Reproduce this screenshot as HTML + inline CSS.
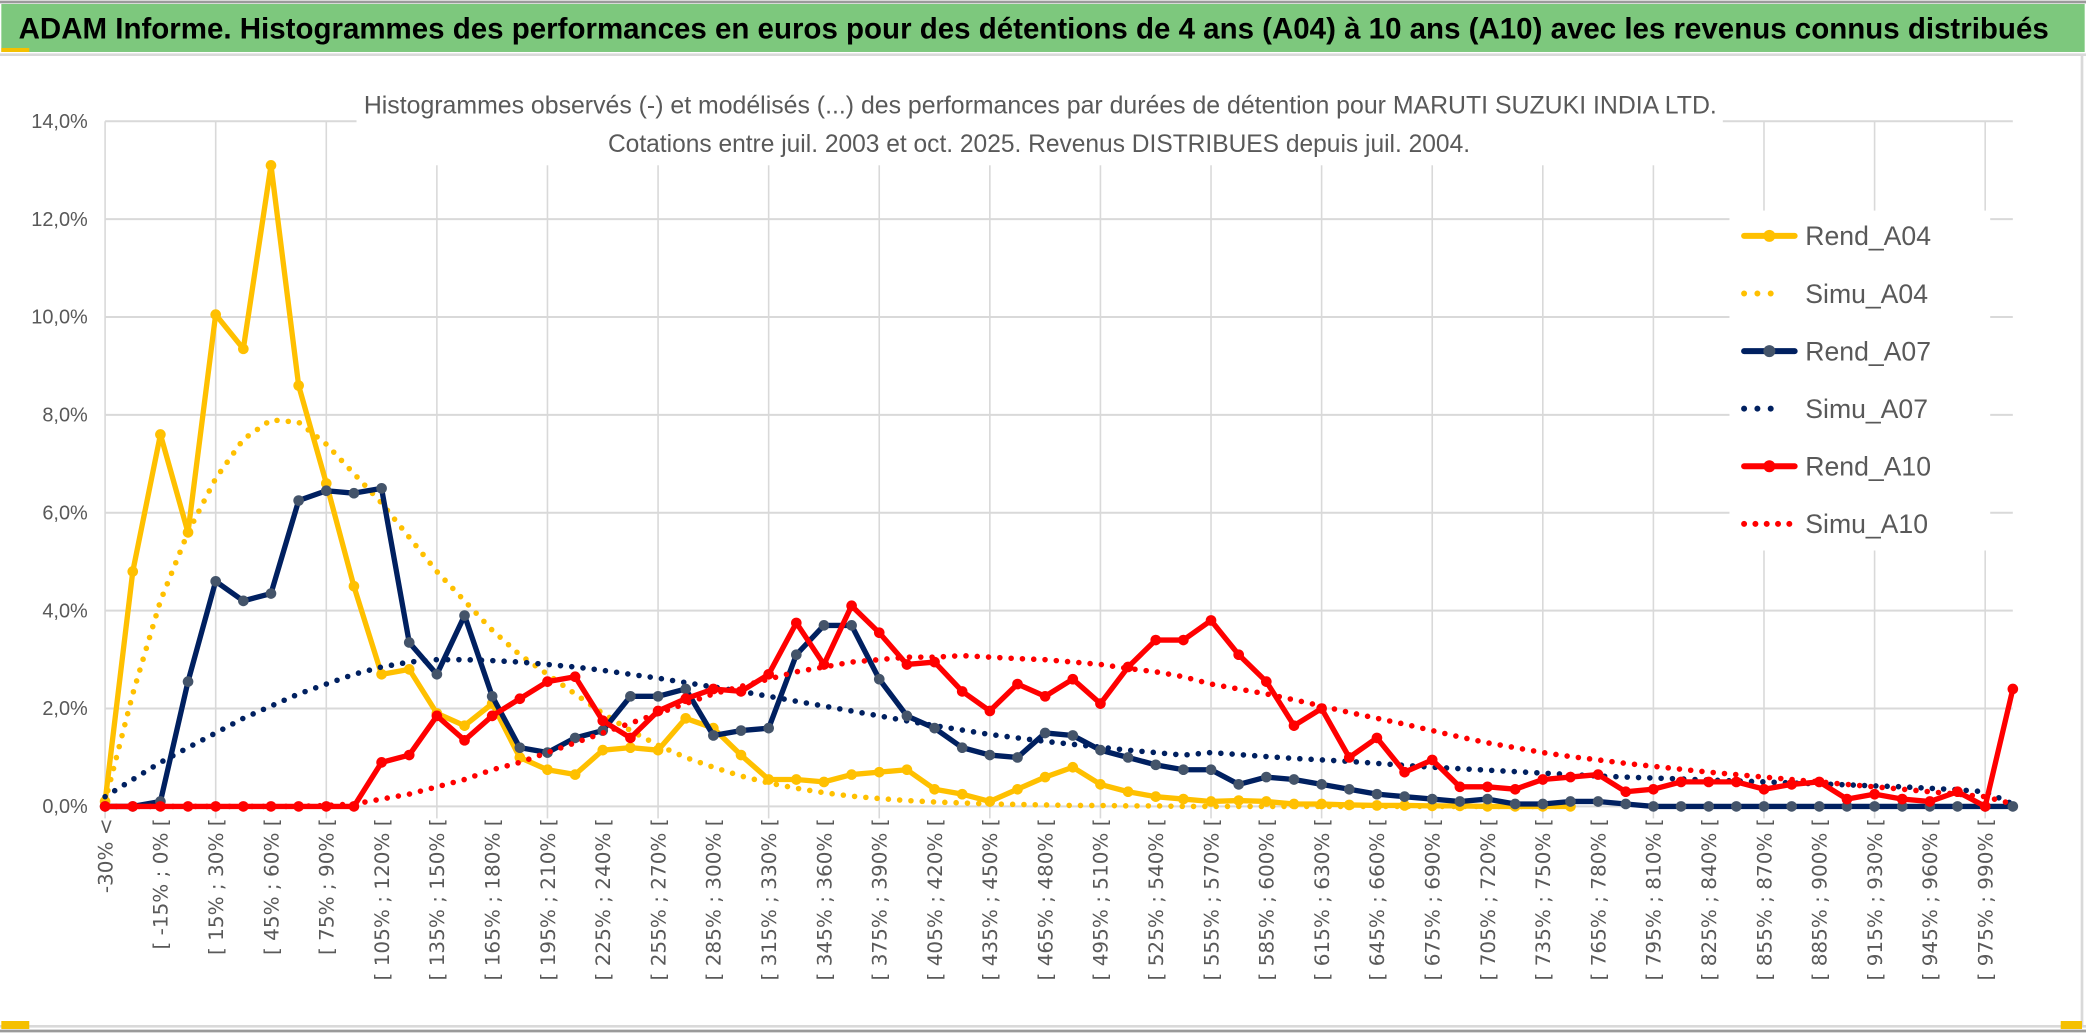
<!DOCTYPE html>
<html><head><meta charset="utf-8"><style>
html,body{margin:0;padding:0;background:#fff;}
svg{display:block;}
text{font-family:"Liberation Sans Narrow","Liberation Sans",sans-serif;}
</style></head><body>
<svg id="chart" width="2086" height="1033" viewBox="0 0 1568 775" preserveAspectRatio="none" xmlns="http://www.w3.org/2000/svg">
<rect x="0" y="0" width="1568" height="775" fill="#fff"/>
<line x1="0" y1="1.5" x2="1568" y2="1.5" stroke="#9a9a9a" stroke-width="2"/>
<rect x="1" y="3" width="1566" height="36" fill="#7dc87d"/>
<rect x="1" y="36" width="21" height="3" fill="#f5c000"/>
<line x1="0" y1="41" x2="1568" y2="41" stroke="#d9d9d9" stroke-width="2"/>
<text x="14" y="29" font-size="22" font-weight="bold" fill="#000" textLength="1526" lengthAdjust="spacingAndGlyphs">ADAM Informe. Histogrammes des performances en euros pour des détentions de 4 ans (A04) à 10 ans (A10) avec les revenus connus distribués</text>
<line x1="1565" y1="41" x2="1565" y2="770" stroke="#d9d9d9" stroke-width="2"/>
<line x1="0" y1="770" x2="1568" y2="770" stroke="#d9d9d9" stroke-width="2"/>
<line x1="0" y1="773.5" x2="1568" y2="773.5" stroke="#9a9a9a" stroke-width="2"/>
<rect x="1" y="766" width="21" height="6" fill="#f5c000"/>
<rect x="1549" y="766" width="16" height="6" fill="#f5c000"/>
<g id="grid"></g>
<rect x="268" y="62" width="1027" height="62" fill="#fff"/>
<text x="782" y="85" font-size="19" fill="#595959" text-anchor="middle" textLength="1017" lengthAdjust="spacingAndGlyphs">Histogrammes observés (-) et modélisés (...) des performances par durées de détention pour MARUTI SUZUKI INDIA LTD.</text>
<text x="781" y="114" font-size="19" fill="#595959" text-anchor="middle" textLength="648" lengthAdjust="spacingAndGlyphs">Cotations entre juil. 2003 et oct. 2025. Revenus DISTRIBUES depuis juil. 2004.</text>
<g id="axes"></g>
<g id="series"></g>
<g id="legend"></g>
</svg>
<script>
const categories = [];
const yTicks = [0,2,4,6,8,10,12,14];
const yTickLabels = ["0,0%","2,0%","4,0%","6,0%","8,0%","10,0%","12,0%","14,0%"];
const rendA04 = [0.1,4.8,7.6,5.6,10.05,9.35,13.1,8.6,6.6,4.5,
2.7,2.8,1.9,1.65,2.1,1.0,0.75,0.65,1.15,1.2,
1.15,1.8,1.6,1.05,0.55,0.55,0.5,0.65,0.7,0.75,
0.35,0.25,0.1,0.35,0.6,0.8,0.45,0.3,0.2,0.15,
0.1,0.12,0.1,0.05,0.05,0.03,0.02,0.02,0.01,0.01,
0,0,0,0,null,null,null,null,null,null,
null,null,null,null,null,null,null,null,null,null];
const simuA04 = [0.1,2.3,4.2,5.6,6.7,7.5,7.9,7.85,7.4,6.8,
6.2,5.5,4.8,4.2,3.6,3.1,2.7,2.3,1.9,1.55,
1.25,1.0,0.8,0.62,0.48,0.37,0.28,0.21,0.16,0.12,
0.09,0.07,0.05,0.04,0.03,0.02,0.02,0.01,0.01,0,
0,0,0,0,0,0,0,0,0,0,
0,0,0,0,null,null,null,null,null,null,
null,null,null,null,null,null,null,null,null,null];
const rendA07 = [0,0,0.1,2.55,4.6,4.2,4.35,6.25,6.45,6.4,
6.5,3.35,2.7,3.9,2.25,1.2,1.1,1.4,1.55,2.25,
2.25,2.4,1.45,1.55,1.6,3.1,3.7,3.7,2.6,1.85,
1.6,1.2,1.05,1.0,1.5,1.45,1.15,1.0,0.85,0.75,
0.75,0.45,0.6,0.55,0.45,0.35,0.25,0.2,0.15,0.1,
0.15,0.05,0.05,0.1,0.1,0.05,0,0,0,0,
0,0,0,0,0,0,0,0,0,0];
const simuA07 = [0.2,0.55,0.9,1.2,1.5,1.8,2.05,2.3,2.5,2.7,
2.85,2.95,3.0,3.0,2.98,2.95,2.9,2.85,2.78,2.7,
2.62,2.53,2.44,2.35,2.25,2.15,2.05,1.95,1.85,1.75,
1.65,1.56,1.47,1.4,1.33,1.27,1.21,1.15,1.1,1.05,
1.1,1.06,1.02,0.98,0.95,0.92,0.88,0.84,0.8,0.77,
0.74,0.71,0.68,0.65,0.62,0.6,0.58,0.56,0.54,0.52,
0.5,0.48,0.46,0.44,0.42,0.4,0.37,0.34,0.3,0.05];
const rendA10 = [0,0,0,0,0,0,0,0,0,0,
0.9,1.05,1.85,1.35,1.85,2.2,2.55,2.65,1.75,1.4,
1.95,2.2,2.4,2.35,2.7,3.75,2.9,4.1,3.55,2.9,
2.95,2.35,1.95,2.5,2.25,2.6,2.1,2.85,3.4,3.4,
3.8,3.1,2.55,1.65,2.0,1.0,1.4,0.7,0.95,0.4,
0.4,0.35,0.55,0.6,0.65,0.3,0.35,0.5,0.5,0.5,
0.35,0.45,0.5,0.15,0.25,0.15,0.1,0.3,0.0,2.4];
const simuA10 = [0,0,0,0,0,0,0,0,0.02,0.05,
0.15,0.25,0.4,0.55,0.75,0.9,1.1,1.3,1.5,1.7,
1.9,2.1,2.3,2.45,2.6,2.75,2.85,2.95,3.0,3.05,
3.05,3.08,3.05,3.02,3.0,2.95,2.9,2.82,2.75,2.65,
2.5,2.4,2.3,2.18,2.05,1.92,1.8,1.68,1.55,1.42,
1.3,1.2,1.1,1.02,0.95,0.88,0.82,0.76,0.7,0.65,
0.6,0.55,0.5,0.45,0.4,0.35,0.3,0.25,0.2,0.05];
categories.push("-30% <");
for (let i=1;i<69;i++){const a=(i-1)*15-30;categories.push("[ "+a+"% ; "+(a+15)+"% [");}
categories.push("> 990%");

const NS="http://www.w3.org/2000/svg";
const X0=79, X1=1513, Y0=605, Y14=91;
const n=categories.length;
function xs(i){return X0+(X1-X0)*i/(n-1);}
function ys(v){return Y0-(Y0-Y14)*v/14;}
function mk(tag,attrs,parent){const e=document.createElementNS(NS,tag);for(const k in attrs)e.setAttribute(k,attrs[k]);parent.appendChild(e);return e;}
const grid=document.getElementById('grid'), axes=document.getElementById('axes'), ser=document.getElementById('series'), leg=document.getElementById('legend');
yTicks.forEach((t,k)=>{
  const l=mk('line',{x1:X0,x2:X1,y1:ys(t),y2:ys(t),stroke:'#d9d9d9','stroke-width':1.5},grid);
  
  
  const tx=mk('text',{x:66,y:ys(t)+5,'font-size':15,fill:'#595959','text-anchor':'end'},axes);
  tx.textContent=yTickLabels[k];
  
  
});
for(let i=0;i<n;i+=4){
  const l=mk('line',{x1:xs(i),x2:xs(i),y1:Y14,y2:Y0+9,stroke:'#d9d9d9','stroke-width':1.2},grid);
  
  
}
for(let i=0;i<69;i+=2){
  const x=xs(i)+5.5;
  const tx=mk('text',{x:x,y:614,fill:'#595959','text-anchor':'end',transform:'rotate(-90 '+x+' 614)',style:'font-family:"DejaVu Sans","Liberation Sans",sans-serif;font-size:15px'},axes);
  tx.textContent=categories[i];
  
  
}
function pathOf(arr){let d='',pen=false;arr.forEach((v,i)=>{if(v===null){pen=false;return;}d+=(pen?'L':'M')+xs(i).toFixed(1)+' '+ys(v).toFixed(1)+' ';pen=true;});return d;}
function drawSim(arr,color,name){
  const p=mk('path',{d:pathOf(arr),fill:'none',stroke:color,'stroke-width':4.2,'stroke-linecap':'round','stroke-dasharray':'0 8.5'},ser);
  
  
}
function drawRend(arr,color,mcolor,name){
  const p=mk('path',{d:pathOf(arr),fill:'none',stroke:color,'stroke-width':4,'stroke-linejoin':'round'},ser);
  
  
  arr.forEach((v,i)=>{if(v===null)return;
    const c=mk('circle',{cx:xs(i),cy:ys(v),r:4,fill:mcolor},ser);
    
    
  });
}
const YEL='#ffc000', NAV='#002060', RED='#ff0000';
drawSim(simuA04,YEL,'simu-a04-line');
drawRend(rendA04,YEL,YEL,'rend-a04-line');
drawSim(simuA07,NAV,'simu-a07-line');
drawRend(rendA07,NAV,'#44546a','rend-a07-line');
drawSim(simuA10,RED,'simu-a10-line');
drawRend(rendA10,RED,RED,'rend-a10-line');

mk('rect',{x:1300,y:158,width:196,height:255,fill:'#fff'},leg);
const legItems=[['Rend_A04',YEL,YEL,false],['Simu_A04',YEL,YEL,true],['Rend_A07',NAV,'#44546a',false],['Simu_A07',NAV,NAV,true],['Rend_A10',RED,RED,false],['Simu_A10',RED,RED,true]];
legItems.forEach((it,k)=>{
  const y=177+k*43.2;
  const g=mk('g',{},leg);
  
  
  if(it[3]){
    mk('line',{x1:1311,x2:it[0]==='Simu_A10'?1346:1340,y1:y,y2:y,stroke:it[1],'stroke-width':4.5,'stroke-linecap':'round','stroke-dasharray':it[0]==='Simu_A10'?'0 8.5':'0 10'},g);
  }else{
    mk('line',{x1:1311,x2:1349,y1:y,y2:y,stroke:it[1],'stroke-width':4.5,'stroke-linecap':'round'},g);
    mk('circle',{cx:1330,cy:y,r:4.5,fill:it[2]},g);
  }
  const t=mk('text',{x:1357,y:y+7,'font-size':20,fill:'#595959'},g);
  t.textContent=it[0];
});
</script>
</body></html>
